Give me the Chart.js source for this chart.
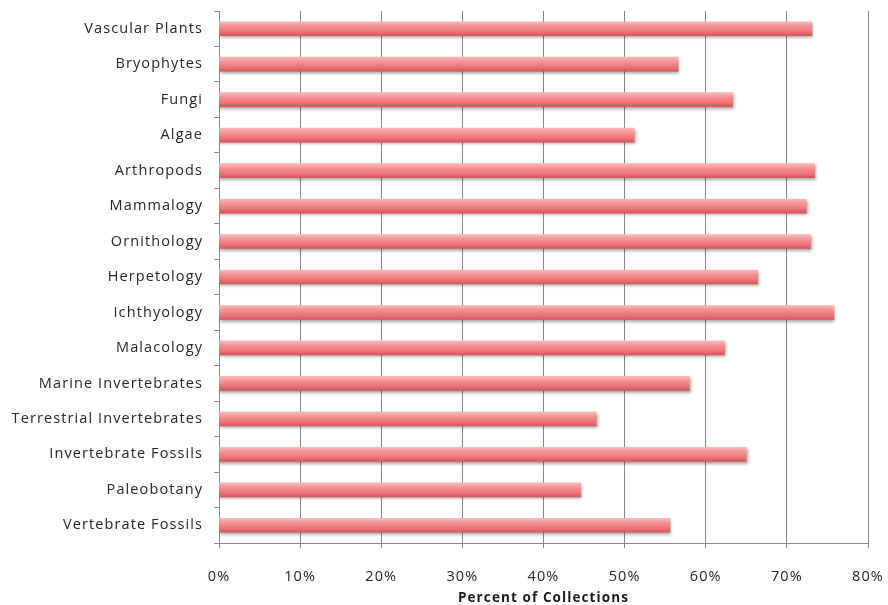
<!DOCTYPE html>
<html>
<head>
<meta charset="utf-8">
<script src="https://cdn.jsdelivr.net/npm/chart.js@4/dist/chart.umd.min.js"></script>
<style>
  html, body { margin: 0; padding: 0; background: #fff; }
  #wrap { width: 888px; height: 605px; }
</style>
</head>
<body>
<div id="wrap"><canvas id="collectionsChart" width="888" height="605"></canvas></div>
<script>
const categories = [
    "Vascular Plants", "Bryophytes", "Fungi", "Algae", "Arthropods",
    "Mammalogy", "Ornithology", "Herpetology", "Ichthyology", "Malacology",
    "Marine Invertebrates", "Terrestrial Invertebrates", "Invertebrate Fossils",
    "Paleobotany", "Vertebrate Fossils"
];
// share of collections, in percent
const percentValues = [73.1, 56.6, 63.3, 51.2, 73.4, 72.4, 72.9, 66.4, 75.8, 62.3, 58.0, 46.5, 65.0, 44.6, 55.6];
const xTicks = [0, 10, 20, 30, 40, 50, 60, 70, 80];

const labelFont = { family: "'Open Sans', sans-serif", size: 14.5 };
const gridGray = "#878787";
const BAR_H = 14;

// vertical shine on every bar, built around its own row
function barFill(context) {
    const chart = context.chart;
    if (!chart.chartArea) return "#ef7f80";
    const y = chart.scales.y.getPixelForValue(context.dataIndex);
    const g = chart.ctx.createLinearGradient(0, y - BAR_H / 2, 0, y + BAR_H / 2);
    g.addColorStop(0, "#f9b9b9");
    g.addColorStop(0.35, "#f49091");
    g.addColorStop(0.7, "#ee7576");
    g.addColorStop(1, "#d45658");
    return g;
}

// soft drop shadow under the bars
const barShadow = {
    id: "barShadow",
    beforeDatasetsDraw(chart) {
        const ctx = chart.ctx;
        ctx.save();
        ctx.shadowColor = "rgba(0,0,0,0.35)";
        ctx.shadowBlur = 3;
        ctx.shadowOffsetX = 1;
        ctx.shadowOffsetY = 2;
    },
    afterDatasetsDraw(chart) {
        chart.ctx.restore();
    }
};

// slightly airy lettering for all the text
const looseText = {
    id: "looseText",
    beforeInit(chart) { chart.ctx.letterSpacing = "1.1px"; },
    beforeDraw(chart) { chart.ctx.letterSpacing = "1.1px"; }
};

const ctx = document.getElementById("collectionsChart").getContext("2d");
const collectionsChart = new Chart(ctx, {
    type: "bar",
    data: {
        labels: categories,
        datasets: [{
            label: "Percent of Collections",
            data: percentValues,
            backgroundColor: barFill,
            borderWidth: 0,
            barThickness: BAR_H
        }]
    },
    options: {
        indexAxis: "y",
        responsive: false,
        animation: false,
        layout: { padding: { left: 0, top: 11, right: 20, bottom: 0 } },
        plugins: {
            legend: { display: false },
            tooltip: { enabled: false }
        },
        scales: {
            x: {
                min: 0,
                max: 80,
                afterBuildTicks(scale) {
                    scale.ticks = xTicks.map(v => ({ value: v }));
                },
                afterFit(scale) {
                    scale.height = 62;
                    scale.paddingLeft = 0;
                    scale.paddingRight = 0;
                },
                ticks: {
                    callback: v => v + "%",
                    font: labelFont,
                    color: "#262626",
                    padding: 20,
                    maxRotation: 0
                },
                grid: { color: gridGray, tickLength: 5, lineWidth: 1 },
                border: { color: gridGray },
                title: {
                    display: true,
                    text: "Percent of Collections",
                    font: { family: labelFont.family, size: 13.5, weight: "bold", lineHeight: 1 },
                    color: "#1a1a1a",
                    padding: { top: 2, bottom: 0 }
                }
            },
            y: {
                afterFit(scale) {
                    scale.width = 219;
                    scale.paddingTop = 0;
                    scale.paddingBottom = 0;
                },
                ticks: {
                    font: labelFont,
                    color: "#262626",
                    padding: 11
                },
                grid: {
                    offset: true,
                    drawOnChartArea: false,
                    color: gridGray,
                    tickLength: 5
                },
                border: { color: gridGray }
            }
        }
    },
    plugins: [barShadow, looseText]
});
</script>
</body>
</html>
